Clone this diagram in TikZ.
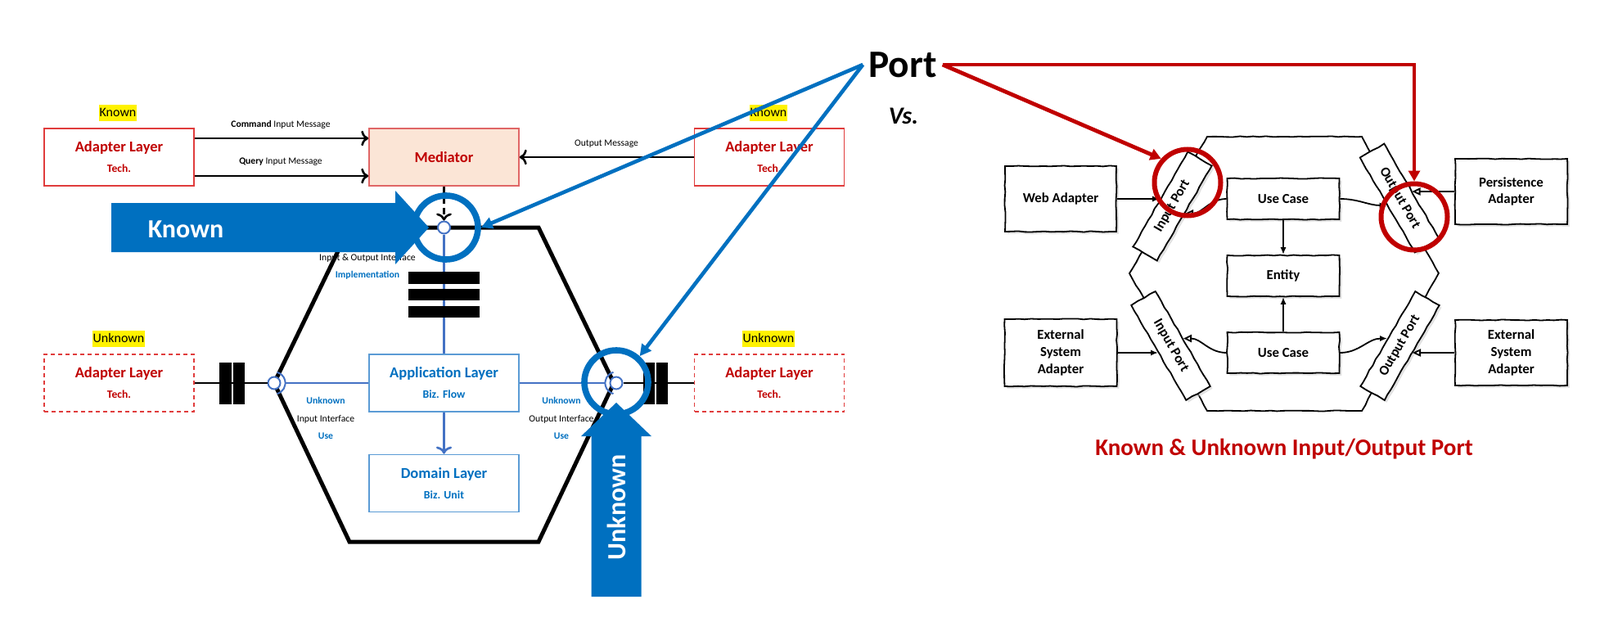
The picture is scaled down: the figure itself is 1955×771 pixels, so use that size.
\documentclass[tikz,border=0pt]{standalone}
\usepackage{fontspec}
\setmainfont{Carlito}
\usetikzlibrary{arrows.meta,decorations.pathmorphing,shadows}
\definecolor{tred}{HTML}{C00000}
\definecolor{adred}{HTML}{E03C3C}
\definecolor{medred}{HTML}{E06666}
\definecolor{medfill}{HTML}{FBE5D6}
\definecolor{kblue}{HTML}{0070C0}
\definecolor{lblue}{HTML}{4472C4}
\definecolor{bxblue}{HTML}{5B9BD5}
\tikzset{layer/.style={line width=0.8pt, minimum width=91.5pt, minimum height=35pt,
  align=center, font=\fontsize{9.25}{12.5}\selectfont\bfseries}}
\tikzset{adbox/.style={layer, draw=adred, text=tred},
  unbox/.style={adbox, dash pattern=on 2.5pt off 2pt},
  medbox/.style={layer, draw=medred, fill=medfill, text=tred},
  bizbox/.style={layer, draw=bxblue, text=kblue}}
\tikzset{hilite/.style={fill=yellow, inner xsep=0.3pt, inner ysep=1pt,
  text height=6.2pt, text depth=1.9pt, font=\fontsize{8}{9}\selectfont},
  msgtext/.style={font=\fontsize{5.8}{7}\selectfont},
  iftext/.style={align=center, font=\fontsize{5.85}{10.9}\selectfont},
  msg/.style={->, line width=1.3pt},
  bline/.style={draw=lblue, line width=1.35pt},
  ball/.style={circle, draw=lblue, fill=white, line width=1pt, minimum size=7.5pt, inner sep=0pt},
  socket/.style={draw=lblue, line width=1pt},
  hexline/.style={line width=2.5pt},
  ring/.style={circle, draw=kblue, line width=3.8pt, minimum size=39pt, inner sep=0pt},
  bigtext/.style={text=white, font=\fontsize{16}{19}\selectfont\bfseries},
  kline/.style={draw=kblue, line width=2.3pt, -{Triangle[length=7pt,width=7pt]}}}
\tikzset{sketch/.style={decorate, decoration={random steps, segment length=4pt, amplitude=0.3pt}},
  hbox/.style={draw, sketch, fill=white, line width=0.9pt, align=center,
    font=\fontsize{8.4}{10.4}\selectfont\bfseries,
    drop shadow={shadow xshift=1.4pt, shadow yshift=-1.4pt, fill=black!22}},
  portbox/.style={hbox, minimum width=67pt, minimum height=17pt, inner sep=0pt},
  fil/.style={-{Latex[length=4.5pt,width=3.6pt]}, line width=0.9pt},
  opn/.style={-{Triangle[length=5pt,width=4.6pt,fill=white]}, line width=0.9pt},
  redring/.style={circle, draw=tred, line width=3pt, minimum size=40.5pt, inner sep=0pt},
  rline/.style={draw=tred, line width=2.4pt, -{Triangle[length=6.5pt,width=7pt]}}}

\begin{document}
\begin{tikzpicture}[x=0.5pt,y=-0.5pt]
      \fill[white] (0,0) rectangle (1955,771);
      \useasboundingbox (0,0) rectangle (1955,771);
      \draw[hexline] (427,278) -- (658,278) -- (750,468) -- (658,662) -- (427,662) -- (335,468) -- cycle;
      \node[adbox] (tla) at (145.5,192) {Adapter Layer\\{\fontsize{6.8}{12.5}\selectfont Tech.}};
      \node[medbox] (med) at (542.5,192) {Mediator};
      \node[adbox] (tra) at (940,192) {Adapter Layer\\{\fontsize{6.8}{12.5}\selectfont Tech.}};
      \node[unbox] (lad) at (145.5,468) {Adapter Layer\\{\fontsize{6.8}{12.5}\selectfont Tech.}};
      \node[unbox] (rad) at (940,468) {Adapter Layer\\{\fontsize{6.8}{12.5}\selectfont Tech.}};
      \node[bizbox] (app) at (542.5,468) {Application Layer\\{\fontsize{6.9}{12.5}\selectfont Biz. Flow}};
      \node[bizbox] (dom) at (542.5,590.5) {Domain Layer\\{\fontsize{6.9}{12.5}\selectfont Biz. Unit}};
      \node[hilite] (tlk) at (144,138) {Known};
      \node[hilite] (trk) at (939,138) {Known};
      \node[hilite] (lau) at (145,414) {Unknown};
      \node[hilite] (rau) at (939,414) {Unknown};
      \draw[msg] ([yshift=11.5pt]tla.east) -- ([yshift=11.5pt]med.west);
      \draw[msg] ([yshift=-11.5pt]tla.east) -- ([yshift=-11.5pt]med.west);
      \draw[msg] (tra) -- (med);
      \node[msgtext] (cmdl) at (343,152) {\textbf{Command} Input Message};
      \node[msgtext] (qryl) at (343,198) {\textbf{Query} Input Message};
      \node[msgtext] (outl) at (741,176) {Output Message};
      \node[ball] (tball) at (542.5,278) {};
      \node[ball] (lball) at (335,468) {};
      \node[ball] (rball) at (753,468) {};
      \draw[msg, dashed, dash pattern=on 4pt off 2.5pt] (med) -- (tball);
      \draw[bline] (tball) -- (app);
      \draw[bline, ->] (app) -- (dom);
      \draw[bline] (app.west) -- ([xshift=6.8pt]lball.center);
      \draw[bline] (app.east) -- ([xshift=-6.8pt]rball.center);
      \draw[line width=1pt] (lad) -- (lball);
      \draw[line width=1pt] (rball) -- (rad);
      \draw[socket] (lball.center) ++(-75:6.8pt) arc[start angle=-75, end angle=75, radius=6.8pt];
      \draw[socket] (rball.center) ++(105:6.8pt) arc[start angle=105, end angle=255, radius=6.8pt];
      \fill (268,443) rectangle (283,494);
      \fill (285,443) rectangle (299,494);
      \fill (786,443) rectangle (800,494);
      \fill (802,443) rectangle (816,494);
      \fill (499,332) rectangle (586,347);
      \fill (499,353) rectangle (586,367);
      \fill (499,374) rectangle (586,388);
      \node[iftext] (ioif) at (449,326) {Input \& Output Interface\\\textcolor{kblue}{\textbf{Implementation}}};
      \node[iftext] (inif) at (398,511) {\textcolor{kblue}{\textbf{Unknown}}\\Input Interface\\\textcolor{kblue}{\textbf{Use}}};
      \node[iftext] (outif) at (686,511) {\textcolor{kblue}{\textbf{Unknown}}\\Output Interface\\\textcolor{kblue}{\textbf{Use}}};
      \node[ring] (kring) at (545,278) {};
      \node[ring] (uring) at (753,467) {};
      \fill[kblue] (136,248) -- (483,248) -- (483,233) -- (524,278) -- (483,323) -- (483,308) -- (136,308) -- cycle;
      \fill[kblue] (722.5,729) -- (722.5,533) -- (710,533) -- (753,492) -- (796,533) -- (783.5,533) -- (783.5,729) -- cycle;
      \node[bigtext] (knownt) at (227,280) {Known};
      \node[bigtext, rotate=90] (unknownt) at (753,620) {Unknown};
      \node[font=\fontsize{23.7}{28}\selectfont\bfseries] (port) at (1103,79) {Port};
      \node[font=\fontsize{15}{18}\selectfont\bfseries\itshape] (vs) at (1104,142) {Vs.};
      \draw[kline] (port.west) -- (kring.east);
      \draw[kline] (port.west) -- (uring.48);
      \draw[sketch, line width=0.9pt] (1475,167) -- (1664,167) -- (1758,334) -- (1664,502) -- (1475,502) -- (1380,334) -- cycle;
      \node[portbox, rotate=60] (ip1) at (1432.5,252) {Input Port};
      \node[portbox, rotate=-60] (ip2) at (1430.5,422.5) {Input Port};
      \node[portbox, rotate=-60] (op1) at (1710,242) {Output Port};
      \node[portbox, rotate=60] (op2) at (1710.5,422.5) {Output Port};
      \node[hbox, minimum width=68pt, minimum height=40pt] (wa) at (1296,243) {Web Adapter};
      \node[hbox, minimum width=68.5pt, minimum height=41pt] (ea1) at (1296,431) {External\\System\\Adapter};
      \node[hbox, minimum width=68.5pt, minimum height=25pt] (uc1) at (1568,243) {Use Case};
      \node[hbox, minimum width=68.5pt, minimum height=25pt] (ent) at (1568,337) {Entity};
      \node[hbox, minimum width=68.5pt, minimum height=25pt] (uc2) at (1568,431) {Use Case};
      \node[hbox, minimum width=68.5pt, minimum height=40pt] (pa) at (1846.5,234) {Persistence\\Adapter};
      \node[hbox, minimum width=68.5pt, minimum height=40pt] (ea2) at (1846.5,431) {External\\System\\Adapter};
      \draw[fil] (wa.east) -- (wa.east -| ip1.north);
      \draw[fil] (ea1.east) -- (ea1.east -| ip2.south);
      \draw[opn] (pa.west) -- (pa.west -| op1.north);
      \draw[opn] (ea2.west) -- (ea2.west -| op2.south);
      \draw[opn] (uc1.west) to[out=180,in=0] (ip1.south);
      \draw[fil] (uc1.east) to[out=0,in=180] (op1.south);
      \draw[opn] (uc2.west) to[out=180,in=0] (ip2.north);
      \draw[fil] (uc2.east) to[out=0,in=180] (op2.north);
      \draw[fil] (uc1) -- (ent);
      \draw[fil] (uc2) -- (ent);
      \node[redring] (irc) at (1451,223) {};
      \node[redring] (orc) at (1728,265) {};
      \draw[rline] (port.east) -- (irc.138);
      \draw[rline] (port.east) -| (orc.north);
      \node[font=\fontsize{14.5}{17}\selectfont\bfseries, text=tred] (title) at (1569,549) {Known \& Unknown Input/Output Port};
    \end{tikzpicture}
\end{document}
